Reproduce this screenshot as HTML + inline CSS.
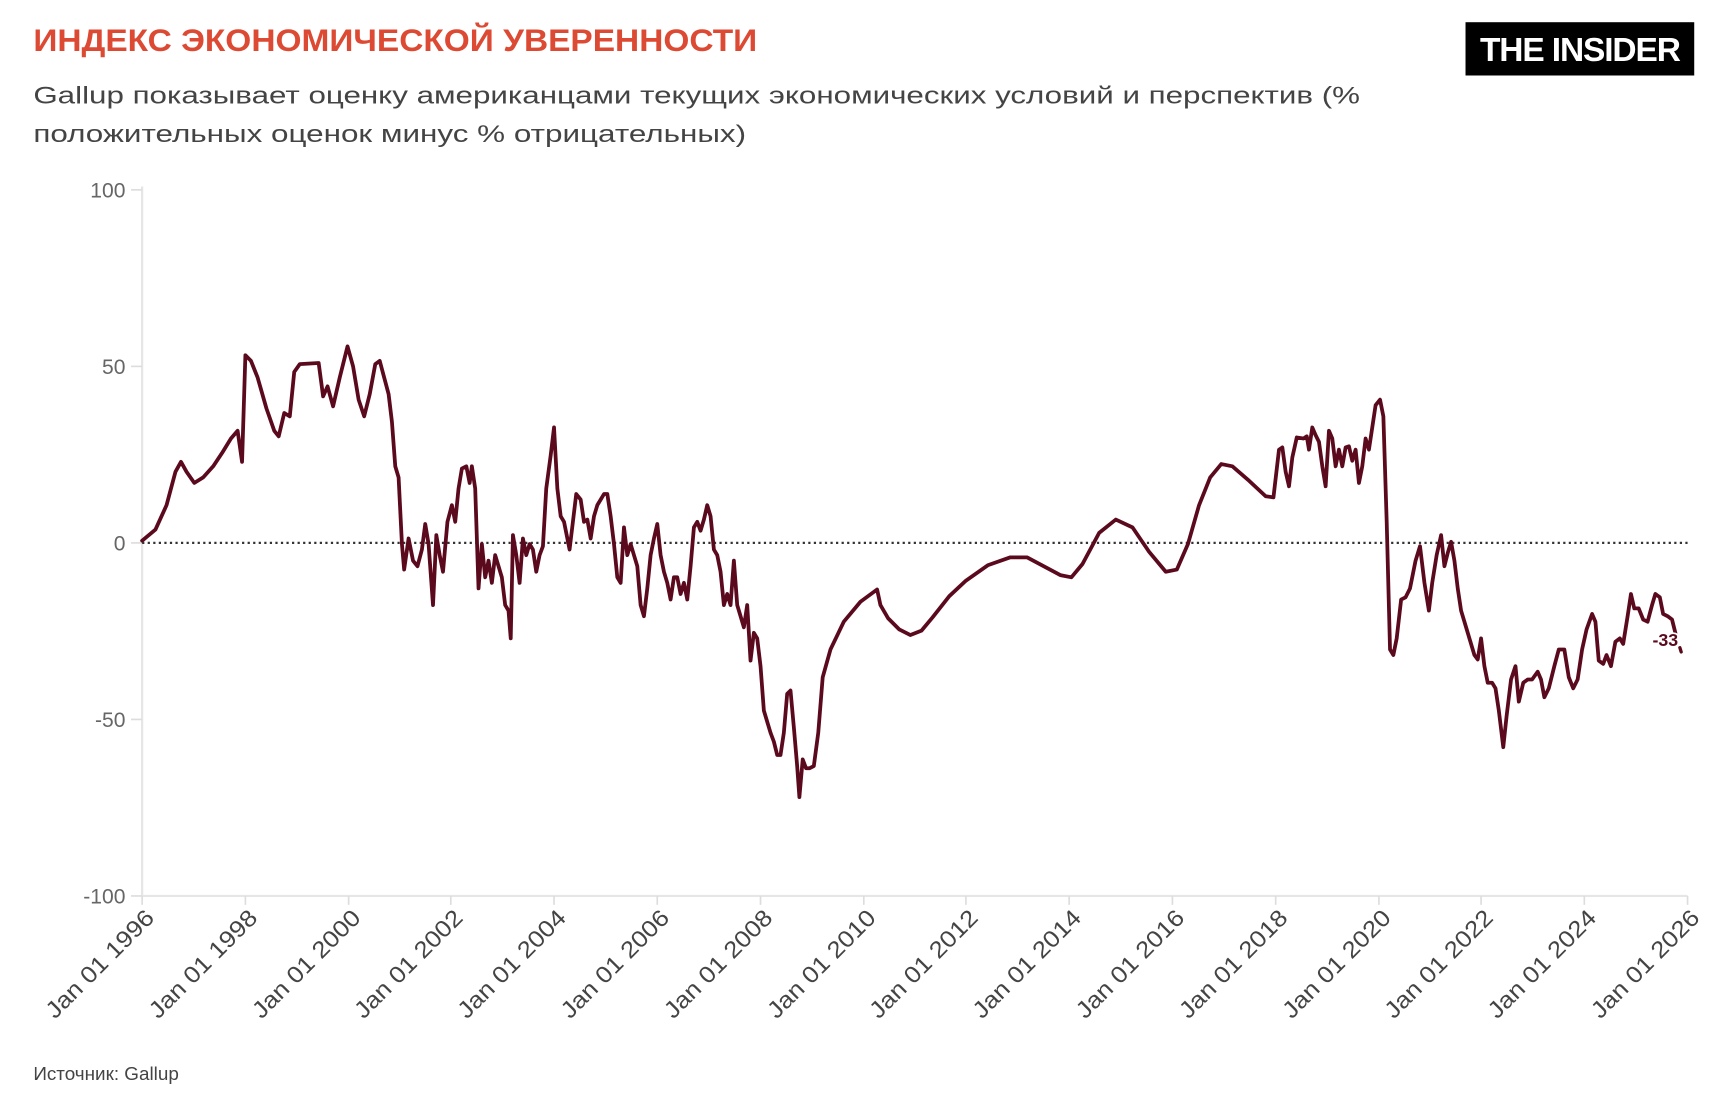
<!DOCTYPE html>
<html><head><meta charset="utf-8"><style>
html,body{margin:0;padding:0;background:#fff;}
svg{display:block;}
text{font-family:"Liberation Sans","DejaVu Sans",sans-serif;}
</style></head><body>
<svg width="1732" height="1113" viewBox="0 0 1560 1002.5" xmlns="http://www.w3.org/2000/svg">
<rect width="1560" height="1002.5" fill="#fff"/>
<text x="30" y="46" font-size="28" font-weight="bold" fill="#dd4a33" textLength="652" lengthAdjust="spacingAndGlyphs">ИНДЕКС ЭКОНОМИЧЕСКОЙ УВЕРЕННОСТИ</text>
<text x="30" y="93" font-size="22" fill="#444" textLength="1195" lengthAdjust="spacingAndGlyphs">Gallup показывает оценку американцами текущих экономических условий и перспектив (%</text>
<text x="30" y="128" font-size="22" fill="#444" textLength="642" lengthAdjust="spacingAndGlyphs">положительных оценок минус % отрицательных)</text>
<rect x="1320" y="20" width="206" height="48" fill="#000"/>
<text x="1423" y="55" font-size="30" font-weight="bold" fill="#fff" text-anchor="middle" textLength="180" lengthAdjust="spacingAndGlyphs" letter-spacing="-1">THE INSIDER</text>
<line x1="128" y1="168" x2="128" y2="808" stroke="#e6e6e6" stroke-width="2"/>
<line x1="128" y1="807" x2="1520" y2="807" stroke="#e6e6e6" stroke-width="2"/>
<g stroke="#ddd" stroke-width="1.5">
<line x1="118" y1="171" x2="128" y2="171"/><line x1="118" y1="330" x2="128" y2="330"/><line x1="118" y1="489" x2="128" y2="489"/><line x1="118" y1="648" x2="128" y2="648"/><line x1="118" y1="807" x2="128" y2="807"/>
</g>
<g font-size="19" fill="#666" text-anchor="end">
<text x="113" y="178">100</text><text x="113" y="337">50</text><text x="113" y="496">0</text><text x="113" y="655">-50</text><text x="113" y="814">-100</text>
</g>
<line x1="128" y1="489" x2="1520" y2="489" stroke="#333" stroke-width="2" stroke-dasharray="2,3"/>
<g font-size="21" fill="#444" text-anchor="end">
<text transform="translate(140,828) rotate(-45)" textLength="128" lengthAdjust="spacingAndGlyphs">Jan 01 1996</text>
<text transform="translate(233,828) rotate(-45)" textLength="128" lengthAdjust="spacingAndGlyphs">Jan 01 1998</text>
<text transform="translate(326,828) rotate(-45)" textLength="128" lengthAdjust="spacingAndGlyphs">Jan 01 2000</text>
<text transform="translate(418,828) rotate(-45)" textLength="128" lengthAdjust="spacingAndGlyphs">Jan 01 2002</text>
<text transform="translate(511,828) rotate(-45)" textLength="128" lengthAdjust="spacingAndGlyphs">Jan 01 2004</text>
<text transform="translate(604,828) rotate(-45)" textLength="128" lengthAdjust="spacingAndGlyphs">Jan 01 2006</text>
<text transform="translate(697,828) rotate(-45)" textLength="128" lengthAdjust="spacingAndGlyphs">Jan 01 2008</text>
<text transform="translate(790,828) rotate(-45)" textLength="128" lengthAdjust="spacingAndGlyphs">Jan 01 2010</text>
<text transform="translate(882,828) rotate(-45)" textLength="128" lengthAdjust="spacingAndGlyphs">Jan 01 2012</text>
<text transform="translate(975,828) rotate(-45)" textLength="128" lengthAdjust="spacingAndGlyphs">Jan 01 2014</text>
<text transform="translate(1068,828) rotate(-45)" textLength="128" lengthAdjust="spacingAndGlyphs">Jan 01 2016</text>
<text transform="translate(1161,828) rotate(-45)" textLength="128" lengthAdjust="spacingAndGlyphs">Jan 01 2018</text>
<text transform="translate(1254,828) rotate(-45)" textLength="128" lengthAdjust="spacingAndGlyphs">Jan 01 2020</text>
<text transform="translate(1346,828) rotate(-45)" textLength="128" lengthAdjust="spacingAndGlyphs">Jan 01 2022</text>
<text transform="translate(1439,828) rotate(-45)" textLength="128" lengthAdjust="spacingAndGlyphs">Jan 01 2024</text>
<text transform="translate(1532,828) rotate(-45)" textLength="128" lengthAdjust="spacingAndGlyphs">Jan 01 2026</text>
</g>
<g stroke="#ddd" stroke-width="1.5">
<line x1="128" y1="807" x2="128" y2="815"/><line x1="221" y1="807" x2="221" y2="815"/><line x1="314" y1="807" x2="314" y2="815"/><line x1="406" y1="807" x2="406" y2="815"/><line x1="499" y1="807" x2="499" y2="815"/><line x1="592" y1="807" x2="592" y2="815"/><line x1="685" y1="807" x2="685" y2="815"/><line x1="778" y1="807" x2="778" y2="815"/><line x1="870" y1="807" x2="870" y2="815"/><line x1="963" y1="807" x2="963" y2="815"/><line x1="1056" y1="807" x2="1056" y2="815"/><line x1="1149" y1="807" x2="1149" y2="815"/><line x1="1242" y1="807" x2="1242" y2="815"/><line x1="1334" y1="807" x2="1334" y2="815"/><line x1="1427" y1="807" x2="1427" y2="815"/><line x1="1520" y1="807" x2="1520" y2="815"/>
</g>
<polyline fill="none" stroke="#5b0a1e" stroke-width="3.4" stroke-linejoin="round" stroke-linecap="round" points="128,487 140,477 150,455 158,425 163,416 168,425 175,435 183,430 192,420 200,408 208,395 214,388 218,416 221,320 226,325 232,340 240,368 247,388 251,393 256,372 261,375 265,335 270,328 287,327 291,357 295,348 300,366 306,340 313,312 318,330 323,360 328,375 333,355 338,328 342,325 346,340 350,355 353,380 356,420 359,430 362,490 364,513 368,485 372,505 376,510 380,495 383,472 386,490 390,545 393,482 396,500 399,515 403,470 407,455 410,470 413,440 416,422 420,420 423,435 425,420 428,440 431,530 434,490 437,520 440,505 443,525 446,500 449,510 452,520 455,545 458,550 460,575 462,482 465,500 468,525 471,485 474,500 477,490 480,495 483,515 486,500 489,492 492,440 496,410 499,385 502,440 505,465 508,470 510,480 513,495 516,470 519,445 523,450 526,470 529,468 532,485 535,465 538,455 541,450 544,445 547,445 550,465 553,490 556,520 559,525 562,475 565,500 568,490 571,500 574,510 577,545 580,555 583,530 586,500 589,485 592,472 595,500 598,515 601,525 604,540 607,520 610,520 613,535 616,525 619,540 622,510 625,475 628,470 631,478 634,468 637,455 640,465 643,495 646,500 649,515 652,545 655,535 658,545 661,505 664,545 667,555 670,565 673,545 676,595 679,570 682,575 685,600 688,640 691,650 694,660 697,668 700,680 703,680 706,660 709,625 712,622 715,655 718,690 720,718 723,684 726,692 729,692 733,690 737,660 741,610 748,585 760,560 775,542 790,531 793,545 800,557 810,567 820,572 830,568 840,556 855,537 870,523 890,509 910,502 925,502 940,510 955,518 965,520 975,508 990,480 1005,468 1020,475 1035,497 1050,515 1060,513 1070,490 1080,455 1090,430 1100,418 1110,420 1125,433 1140,447 1147,448 1152,405 1155,403 1158,425 1161,438 1164,412 1168,394 1174,395 1177,393 1179,405 1182,385 1185,392 1188,398 1191,420 1194,438 1197,388 1200,395 1203,420 1206,405 1209,420 1212,403 1215,402 1218,415 1221,405 1224,435 1227,420 1230,395 1233,405 1236,385 1239,365 1243,360 1246,375 1249,470 1252,585 1255,590 1258,575 1262,540 1266,538 1270,530 1275,505 1279,492 1283,525 1287,550 1290,525 1294,500 1298,482 1301,510 1304,498 1307,488 1310,505 1313,530 1316,550 1319,560 1322,570 1325,580 1328,590 1331,594 1334,575 1337,600 1340,615 1344,615 1347,620 1350,640 1354,673 1357,645 1361,612 1365,600 1368,632 1372,615 1376,612 1380,612 1385,605 1388,612 1391,628 1395,620 1400,600 1404,585 1409,585 1413,610 1417,620 1421,612 1425,585 1429,567 1434,553 1437,560 1440,595 1444,598 1447,590 1451,600 1455,578 1459,575 1462,580 1466,555 1469,535 1472,548 1476,548 1480,558 1484,560 1488,545 1491,535 1495,538 1498,553 1502,555 1506,558 1509,570"/>
<line x1="1509" y1="570" x2="1516" y2="593" stroke="#5b0a1e" stroke-width="3" stroke-dasharray="4,10" stroke-linecap="round"/>
<text x="1500" y="582" font-size="16" font-weight="bold" fill="#5b0a1e" text-anchor="middle" stroke="#fff" stroke-width="3" paint-order="stroke">-33</text>
<text x="30" y="973" font-size="17" fill="#444">Источник: Gallup</text>
</svg>
</body></html>
